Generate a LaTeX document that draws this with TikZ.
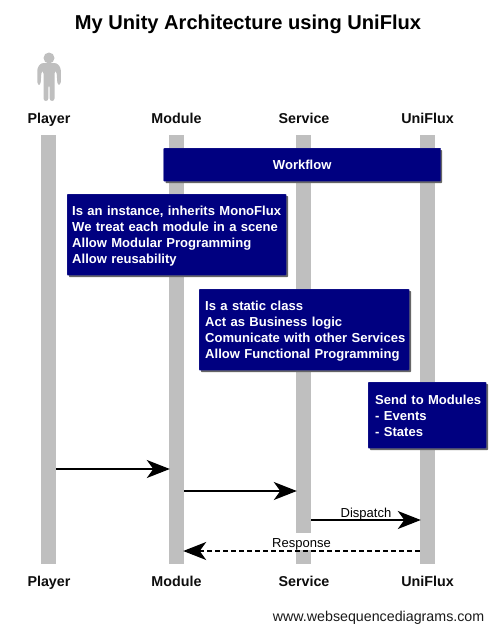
\documentclass[tikz,border=0pt]{standalone}
\usepackage{fontspec}
\setmainfont{Liberation Sans}
\usetikzlibrary{arrows.meta}
\definecolor{barg}{HTML}{BFBFBF}
\definecolor{notebl}{HTML}{000080}
\newcommand{\firstline}{\rule{0pt}{15.2pt}}
\tikzset{
  x=1pt,y=-1pt,
  lifebar/.style={fill=barg,draw=none,inner sep=0pt,minimum width=15pt,anchor=north},
  actorlabel/.style={font=\fontsize{14.3}{16}\selectfont\bfseries,inner sep=0pt,anchor=base,text=black!95},
  notebox/.style={fill=notebl,draw=notebl!85!white,line width=.4pt,text=white,inner ysep=0pt,inner xsep=5pt,align=left,
    font=\fontsize{13.05}{16}\selectfont\bfseries,anchor=north west,rounded corners=.7pt},
  noteshadow/.style={fill=black!60,draw=none,rounded corners=.7pt},
  msg/.style={line width=1.6pt,shorten >=-1pt,-{Stealth[length=23pt,width=18pt,inset=6.5pt]}},
  msgdash/.style={msg,dash pattern=on 5pt off 3pt},
  msglabel/.style={font=\fontsize{13}{15}\selectfont,inner sep=0pt,anchor=base},
}
\begin{document}
\begin{tikzpicture}
\useasboundingbox (0,0) rectangle (494,632);
\node[font=\fontsize{20.1}{22}\selectfont\bfseries,inner sep=0pt,anchor=base] (title) at (248,29) {My Unity Architecture using UniFlux};
% actor figure
\fill[barg] (49,58) circle (5.5);
\fill[barg,rounded corners=2.5pt] (41,63) -- (57,63) -- (60.8,68) -- (60.8,84.5) -- (57.5,85) -- (56.5,71) -- (54.5,71) -- (54.5,101) -- (49.7,101) -- (49.7,85) -- (48.3,85) -- (48.3,101) -- (43.5,101) -- (43.5,71) -- (41.5,71) -- (40.5,85) -- (37.3,84.5) -- (37.3,68) -- cycle;
% lifelines
\node[lifebar,minimum height=429pt] (player) at (48.5,135) {};
\node[lifebar,minimum height=429pt] (module) at (176.5,135) {};
\node[lifebar,minimum height=429pt] (service) at (303.5,135) {};
\node[lifebar,minimum height=429pt] (uniflux) at (427.5,135) {};
% actor labels
\node[actorlabel] (l1) at (49,123) {Player};
\node[actorlabel] (l2) at (176.5,123) {Module};
\node[actorlabel] (l3) at (304,123) {Service};
\node[actorlabel] (l4) at (427.5,123) {UniFlux};
\node[actorlabel] (b1) at (49,586) {Player};
\node[actorlabel] (b2) at (176.5,586) {Module};
\node[actorlabel] (b3) at (304,586) {Service};
\node[actorlabel] (b4) at (427.5,586) {UniFlux};
% notes
\fill[noteshadow] (165.5,150) rectangle (442,183);
\node[notebox,text width=267pt,minimum height=33pt,align=center] (n1) at (163.5,148) {Workflow};
\fill[noteshadow] (69,196) rectangle (288,277);
\node[notebox,text width=209pt,minimum height=81pt] (n2) at (67,194) {\begin{tabular}{@{}l@{}}\firstline Is an instance, inherits MonoFlux\\We treat each module in a scene\\Allow Modular Programming\\Allow reusability\end{tabular}};
\fill[noteshadow] (201,291) rectangle (411,372);
\node[notebox,inner xsep=6pt,text width=198pt,minimum height=81pt] (n3) at (199,289) {\begin{tabular}{@{}l@{}}\firstline Is a static class\\Act as Business logic\\Comunicate with other Services\\Allow Functional Programming\end{tabular}};
\fill[noteshadow] (370,384) rectangle (488,450);
\node[notebox,inner xsep=7pt,text width=104pt,minimum height=66pt] (n4) at (368,382) {\begin{tabular}{@{}l@{}}\firstline Send to Modules\\- Events\\- States\end{tabular}};
% messages
\coordinate (m1) at (0,469);
\coordinate (m2) at (0,491);
\coordinate (m3) at (0,520);
\coordinate (m4) at (0,551);
\fill[white] (296,533) rectangle (311,550);
\draw[msg] (player.east |- m1) -- (module.west |- m1);
\draw[msg] (module.east |- m2) -- (service.west |- m2);
\draw[msg] (service.east |- m3) -- (uniflux.west |- m3);
\node[msglabel] (t3) at (366,517) {Dispatch};
\draw[msgdash] (uniflux.west |- m4) -- (module.east |- m4);
\node[msglabel] (t4) at (301.5,547) {Response};
\node[font=\fontsize{14.25}{16}\selectfont,inner sep=0pt,anchor=base east,text=black!90] (wm) at (484.5,621) {www.websequencediagrams.com};
\end{tikzpicture}
\end{document}
